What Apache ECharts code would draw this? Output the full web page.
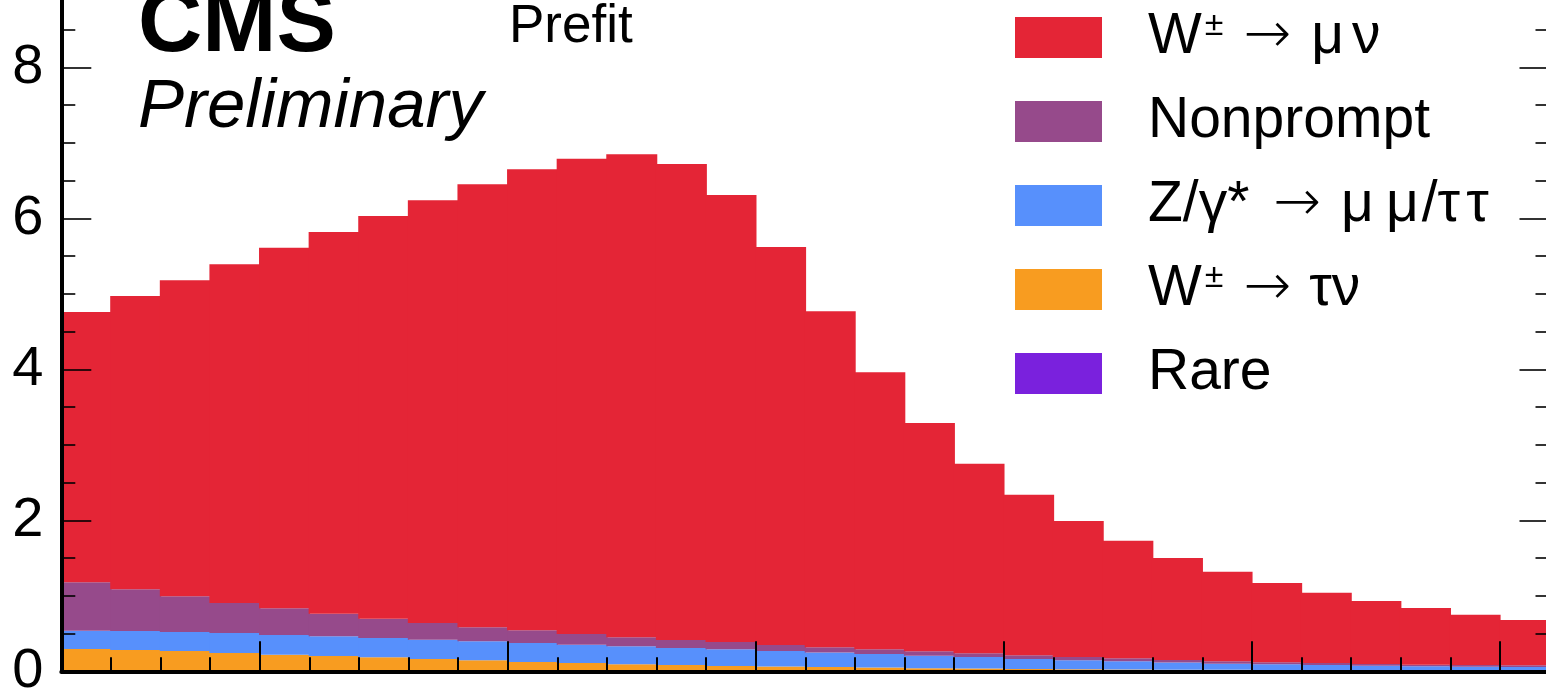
<!DOCTYPE html>
<html>
<head>
<meta charset="utf-8">
<script src="https://cdn.jsdelivr.net/npm/echarts@6/dist/echarts.min.js"></script>
<style>
html,body{margin:0;padding:0;background:#fff;}
#chart{width:1546px;height:692px;}
</style>
</head>
<body>
<div id="chart"></div>
<script>
// bin labels (muon pT bins, 30 bins)
const categories = ['26','27','28','29','30','31','32','33','34','35','36','37','38','39','40','41','42','43','44','45','46','47','48','49','50','51','52','53','54','55'];
const yTicks = [0, 2, 4, 6, 8];

// per-process yields (stack from bottom: Rare, W->tau nu, Z, Nonprompt, W->mu nu)
const rare = [0.010,0.010,0.009,0.009,0.008,0.008,0.008,0.007,0.007,0.006,0.006,0.006,0.005,0.005,0.005,0.004,0.004,0.004,0.004,0.003,0.003,0.003,0.003,0.003,0.003,0.002,0.002,0.002,0.002,0.002];
const wtaunu = [0.285,0.272,0.260,0.233,0.212,0.195,0.177,0.156,0.139,0.117,0.104,0.087,0.078,0.065,0.060,0.054,0.046,0.038,0.033,0.029,0.025,0.022,0.019,0.017,0.015,0.014,0.013,0.012,0.011,0.010];
const zll = [0.243,0.251,0.251,0.265,0.261,0.261,0.256,0.256,0.251,0.252,0.243,0.238,0.226,0.221,0.205,0.192,0.179,0.165,0.153,0.132,0.118,0.107,0.093,0.081,0.074,0.068,0.060,0.052,0.048,0.045];
const nonprompt = [0.641,0.553,0.473,0.398,0.353,0.299,0.256,0.221,0.186,0.168,0.141,0.119,0.106,0.097,0.079,0.068,0.062,0.058,0.048,0.047,0.044,0.040,0.035,0.031,0.027,0.026,0.022,0.022,0.023,0.023];
const wmunu = [3.581,3.884,4.187,4.485,4.776,5.057,5.333,5.600,5.867,6.107,6.296,6.400,6.305,5.922,5.271,4.452,3.669,3.025,2.512,2.129,1.800,1.558,1.350,1.188,1.051,0.930,0.833,0.752,0.666,0.600];

const seriesNames = ['Rare', 'W\u00b1 \u2192 \u03c4\u03bd', 'Z/\u03b3* \u2192 \u03bc\u03bc/\u03c4\u03c4', 'Nonprompt', 'W\u00b1 \u2192 \u03bc\u03bd'];
const seriesData = [rare, wtaunu, zll, nonprompt, wmunu];
const seriesColors = ['#7a21dd', '#f89c20', '#5790fc', '#964a8b', '#e42536'];
// legend rows, top to bottom (index into the series arrays)
const legendOrder = [4, 3, 2, 1, 0];

const FONT = "'Liberation Sans', Arial, Helvetica, sans-serif";
const ARROWFONT = "'DejaVu Sans', sans-serif";
// legend label pieces: [text, size, family, gapBefore, raise, weight]
const legendPieces = {
  4: [['W',57,FONT,0,0],['\u00b1',34,FONT,3,12],['\u2192',57,ARROWFONT,20,0,'200'],['\u03bc',57,FONT,20,0],['\u03bd',57,FONT,8,0]],
  3: [['Nonprompt',57,FONT,0,0]],
  2: [['Z/\u03b3*',57,FONT,0,0],['\u2192',57,ARROWFONT,24,0,'200'],['\u03bc',57,FONT,20,0],['\u03bc',57,FONT,12,0],['/\u03c4',57,FONT,3,0],['\u03c4',57,FONT,6,0]],
  1: [['W',57,FONT,0,0],['\u00b1',34,FONT,3,12],['\u2192',57,ARROWFONT,20,0,'200'],['\u03c4\u03bd',57,FONT,18,0]],
  0: [['Rare',57,FONT,0,0]]
};

const chart = echarts.init(document.getElementById('chart'), null, {renderer: 'canvas'});
const measureCtx = document.createElement('canvas').getContext('2d');
function fontOf(p) { return (p[5] ? p[5] + ' ' : '') + p[1] + 'px ' + p[2]; }
function textWidth(p) { measureCtx.font = fontOf(p); return measureCtx.measureText(p[0]).width; }

const gridLeft = 61.3, gridRight = -3.5;
const bandWidth = (1546 - gridLeft - gridRight) / categories.length;

const tickStyle = {color: '#000', width: 1.6};
function yAxisDef(pos, showLabel) {
  return {
    type: 'value', position: pos, min: 0, max: 10, interval: 2, z: 10,
    axisLine: {show: true, onZero: false, lineStyle: {color: '#000', width: 4}},
    axisTick: {show: true, inside: true, length: 30, lineStyle: tickStyle},
    minorTick: {show: true, splitNumber: 4, length: 14, lineStyle: tickStyle},
    splitLine: {show: false},
    axisLabel: {show: showLabel, fontSize: 56, color: '#000', margin: 18, fontFamily: FONT,
      formatter: function (v) { return yTicks.indexOf(v) >= 0 ? String(v) : ''; }}
  };
}

const graphics = [
  {type: 'text', x: 138, y: 26, silent: true, z: 20,
   style: {text: 'CMS', font: 'bold 89px ' + FONT, fill: '#000', verticalAlign: 'middle'}},
  {type: 'text', x: 138, y: 108, silent: true, z: 20,
   style: {text: 'Preliminary', font: 'italic 69px ' + FONT, fill: '#000', verticalAlign: 'middle'}},
  {type: 'text', x: 509, y: 27, silent: true, z: 20,
   style: {text: 'Prefit', font: '53px ' + FONT, fill: '#000', verticalAlign: 'middle'}}
];
legendOrder.forEach(function (si, row) {
  const top = 17 + 84 * row;
  const cy = top + 20.5;
  graphics.push({type: 'rect', shape: {x: 1015, y: top, width: 87, height: 41}, style: {fill: seriesColors[si]}, silent: true, z: 20});
  let x = 1148;
  legendPieces[si].forEach(function (p) {
    x += p[3];
    graphics.push({type: 'text', x: x, y: cy - p[4], silent: true, z: 20,
      style: {text: p[0], font: fontOf(p), fill: '#000', verticalAlign: 'middle', align: 'left'}});
    x += textWidth(p);
  });
});

const option = {
  animation: false,
  backgroundColor: '#fff',
  grid: {left: gridLeft, right: gridRight, top: -83.7, bottom: 20.7, containLabel: false, outerBoundsMode: 'none'},
  xAxis: [
    {type: 'category', data: categories, position: 'bottom', z: 10,
     axisLine: {show: true, onZero: false, lineStyle: {color: '#000', width: 4}},
     axisTick: {show: true, inside: true, interval: 0, length: 14, lineStyle: {color: '#000', width: 2}},
     axisLabel: {show: false}, splitLine: {show: false}},
    {type: 'category', data: categories, position: 'bottom', z: 10,
     axisLine: {show: false},
     axisTick: {show: true, inside: true, length: 30, lineStyle: {color: '#000', width: 2},
       interval: function (index) { return index % 5 === 4; }},
     axisLabel: {show: false}, splitLine: {show: false}}
  ],
  yAxis: [yAxisDef('left', true), yAxisDef('right', false)],
  graphic: graphics,
  series: seriesNames.map(function (n, i) {
    return {
      name: n, type: 'bar', stack: 'total', data: seriesData[i],
      xAxisIndex: 0, yAxisIndex: 0,
      barWidth: bandWidth + 1.4,
      itemStyle: {color: seriesColors[i], borderWidth: 0},
      emphasis: {disabled: true}, silent: true
    };
  })
};
chart.setOption(option);
</script>
</body>
</html>
